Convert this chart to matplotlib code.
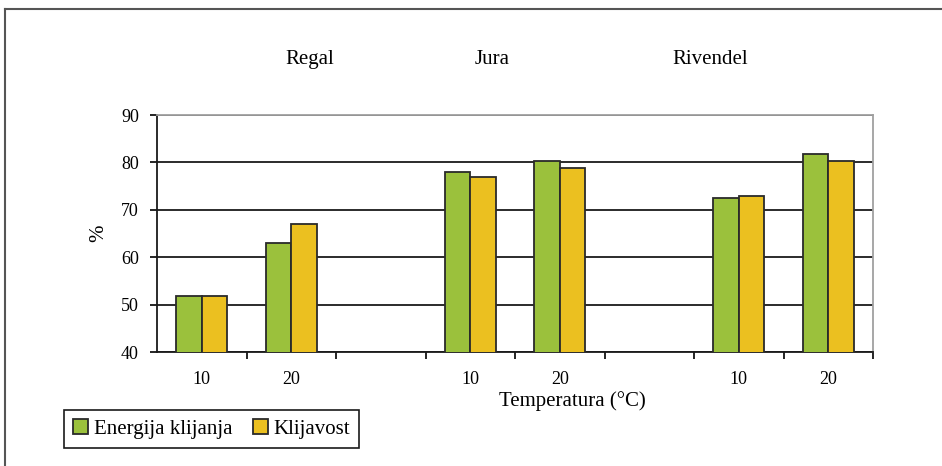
import matplotlib
matplotlib.use("Agg")
import matplotlib.pyplot as plt
from matplotlib.lines import Line2D
import numpy as np

# germination energy vs. germination rate per cultivar and temperature
temp_labels = ["10", "20", "", "10", "20", "", "10", "20"]
energija = [51.8, 63.0, np.nan, 78.0, 80.3, np.nan, 72.4, 81.8]
klijavost = [51.8, 66.9, np.nan, 76.9, 78.8, np.nan, 73.0, 80.3]
cultivars = ["Regal", "Jura", "Rivendel"]

GREEN, YELLOW, EDGE = "#9bc13c", "#ebc020", "#2a2a2a"

plt.rcParams["font.family"] = ["Liberation Serif", "DejaVu Serif"]

W, H = 942, 466
fig = plt.figure(figsize=(W / 100, H / 100), dpi=100)
ax = fig.add_axes([157 / W, 1 - 352 / H, (873 - 157) / W, (352 - 115) / H])

x = np.arange(len(temp_labels))
bw = 0.285
ax.bar(x - bw / 2, energija, bw, color=GREEN, edgecolor=EDGE, lw=1.3,
       label="Energija klijanja", zorder=3)
ax.bar(x + bw / 2, klijavost, bw, color=YELLOW, edgecolor=EDGE, lw=1.3,
       label="Klijavost", zorder=3)

ax.set_xlim(-0.5, len(x) - 0.5)
ax.set_ylim(40, 90)
ax.set_yticks(range(40, 91, 10))
ax.yaxis.grid(True, color="#1a1a1a", lw=1.3, zorder=1)
ax.tick_params(axis="y", length=5, width=1.2, pad=8, labelsize=13)

# tick marks on category boundaries, labels at category centres
ax.set_xticks(np.arange(0.5, len(x), 1.0))
ax.set_xticklabels([])
ax.set_xticks(x, minor=True)
ax.set_xticklabels(temp_labels, minor=True)
ax.tick_params(axis="x", which="major", length=5, width=1.2)
ax.tick_params(axis="x", which="minor", length=0, pad=14, labelsize=13)

for side in ("left", "bottom"):
    ax.spines[side].set_color("#1a1a1a")
    ax.spines[side].set_linewidth(1.3)
for side in ("top", "right"):
    ax.spines[side].set_color("#a0a0a0")
    ax.spines[side].set_linewidth(1.3)

ax.set_ylabel("%", fontsize=15, labelpad=9)
fig.text(572 / W, 1 - 406 / H, "Temperatura (°C)", ha="center", va="baseline", fontsize=15)

for name, px in zip(cultivars, [310, 492, 710]):
    fig.text(px / W, 1 - 60 / H, name, ha="center", va="center", fontsize=15)

leg = fig.legend(loc="lower left", bbox_to_anchor=(64 / W, 1 - 448 / H), ncol=2,
                 fontsize=15, frameon=True, fancybox=False, framealpha=1,
                 handlelength=0.72, handleheight=0.72, handletextpad=0.25,
                 columnspacing=1.0, borderpad=0.45, borderaxespad=0)
leg.get_frame().set_edgecolor("#1a1a1a")
leg.get_frame().set_linewidth(1.2)

# outer frame around the chart
fig.add_artist(Line2D([5 / W, 5 / W], [0, 1 - 9 / H], transform=fig.transFigure,
                      color="#555555", lw=1.5))
fig.add_artist(Line2D([5 / W, 1], [1 - 9 / H, 1 - 9 / H], transform=fig.transFigure,
                      color="#555555", lw=1.5))

fig.savefig("out.png", dpi=100)
